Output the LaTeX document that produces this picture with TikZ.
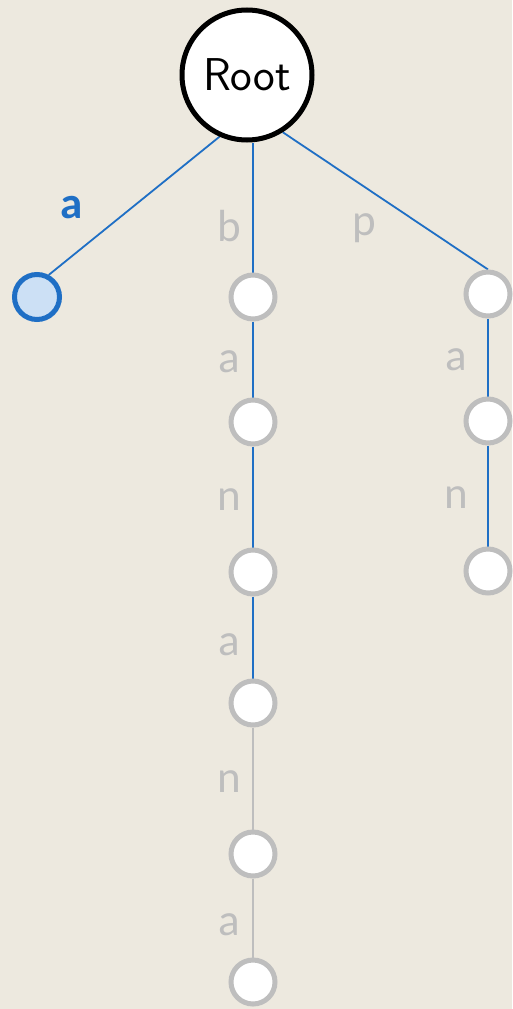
\documentclass[tikz,border=0pt]{standalone}
\usepackage{fontspec}
\usetikzlibrary{backgrounds}
\newfontfamily\labfont{Carlito}
\definecolor{bg}{HTML}{EDE9DF}
\definecolor{tblue}{HTML}{1F6FC5}
\definecolor{lblue}{HTML}{CCE0F5}
\definecolor{tgray}{HTML}{BEBEBE}
\begin{document}
\begin{tikzpicture}[x=1pt,y=-1pt,
  rootnode/.style={circle,draw=black,line width=5pt,fill=white,minimum size=130pt,inner sep=0pt,font=\sffamily\fontsize{46}{50}\selectfont},
  tnode/.style={circle,draw=tgray,line width=5pt,fill=white,minimum size=44pt,inner sep=0pt},
  selnode/.style={circle,draw=tblue,line width=5pt,fill=lblue,minimum size=45pt,inner sep=0pt},
  bedge/.style={draw=tblue,line width=1.8pt},
  gedge/.style={draw=tgray,line width=1.8pt},
  glab/.style={text=tgray,font=\labfont\fontsize{45}{50}\selectfont,inner sep=0pt},
  blab/.style={text=tblue,font=\labfont\bfseries\fontsize{45}{50}\selectfont,inner sep=0pt}]
\node[rootnode] (root) at (247,75) {Root};
\node[selnode] (na) at (37,297) {};
\node[tnode] (b1) at (253,297) {};
\node[tnode] (b2) at (253,422) {};
\node[tnode] (b3) at (253,572) {};
\node[tnode] (b4) at (253,703) {};
\node[tnode] (b5) at (253,854) {};
\node[tnode] (b6) at (253,982) {};
\node[tnode] (p1) at (488,294) {};
\node[tnode] (p2) at (488,421) {};
\node[tnode] (p3) at (488,571) {};
\begin{scope}[on background layer]
\fill[bg] (0,0) rectangle (512,1009);
\draw[bedge] (root.-114) -- (na.62);
\draw[bedge] (root.south -| b1.north) -- (b1.north);
\draw[bedge] (root.-58) -- (p1.north);
\draw[bedge] (b1) -- (b2);
\draw[bedge] (b2) -- (b3);
\draw[bedge] (b3) -- (b4);
\draw[gedge] (b4) -- (b5);
\draw[gedge] (b5) -- (b6);
\draw[bedge] (p1) -- (p2);
\draw[bedge] (p2) -- (p3);
\end{scope}
\useasboundingbox (0,0) rectangle (512,1009);
\node[blab] (la) at (72,208) {a};
\node[glab] (lb) at (229,226) {b};
\node[glab] (lp) at (364,228) {p};
\node[glab] (l2) at (229,362) {a};
\node[glab] (l3) at (229,500) {n};
\node[glab] (l4) at (229,645) {a};
\node[glab] (l5) at (229,782) {n};
\node[glab] (l6) at (229,925) {a};
\node[glab] (l7) at (456,360) {a};
\node[glab] (l8) at (456,498) {n};
\end{tikzpicture}
\end{document}
